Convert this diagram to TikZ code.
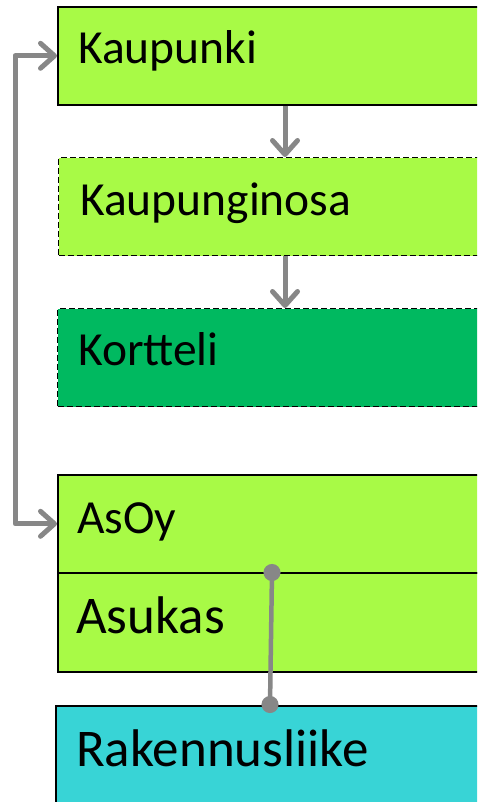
\documentclass[tikz,border=0pt]{standalone}
\usepackage{fontspec}
\setmainfont{Carlito}
\usetikzlibrary{arrows.meta}
\definecolor{limegreen}{RGB}{168,250,70}
\definecolor{blockgreen}{RGB}{0,185,96}
\definecolor{contractor}{RGB}{56,212,214}
\definecolor{linkgrey}{RGB}{135,135,135}
\tikzset{
  box/.style={draw=black, line width=1.6pt, anchor=north west, rectangle,
    minimum width=450pt, minimum height=98pt, inner sep=0pt},
  dashedbox/.style={box, line width=1.3pt, dash pattern=on 6pt off 3pt},
  lbl/.style={anchor=base west, inner sep=0pt, font=\fontsize{47.5}{52}\selectfont},
  biglbl/.style={lbl, font=\fontsize{53}{57}\selectfont},
  barb/.tip={Straight Barb[length=14pt, width=25pt, line cap=round, line join=round]},
  flow/.style={draw=linkgrey, line width=5pt, -barb},
  tie/.style={draw=linkgrey, line width=4.5pt, shorten <=-8pt, shorten >=-8pt,
    {Circle[length=17pt]}-{Circle[length=17pt]}}
}
\begin{document}
\begin{tikzpicture}[x=1pt, y=-1pt]
  \clip (0,0) rectangle (477,802);

  % boxes
  \node[box, fill=limegreen] (kaupunki) at (57,6) {};
  \node[dashedbox, fill=limegreen] (osa) at (58,157) {};
  \node[dashedbox, fill=blockgreen] (kortteli) at (57,308) {};
  \node[box, fill=limegreen] (asoy) at (57,474) {};
  \node[box, fill=limegreen, minimum height=99pt] (asukas) at (57,572) {};
  \node[box, fill=contractor, minimum height=110pt] (rak) at (55,705) {};

  % labels
  \node[lbl] (t1) at ([shift={(21pt,-57.3pt)}]kaupunki.north west) {Kaupunki};
  \node[lbl] (t2) at ([shift={(22pt,-58pt)}]osa.north west) {Kaupunginosa};
  \node[lbl] (t3) at ([shift={(21pt,-57pt)}]kortteli.north west) {Kortteli};
  \node[lbl] (t4) at ([shift={(20pt,-59pt)}]asoy.north west) {AsOy};
  \node[biglbl] (t5) at ([shift={(19pt,-61pt)}]asukas.north west) {Asukas};
  \node[biglbl] (t6) at ([shift={(21pt,-61.7pt)}]rak.north west) {Rakennusliike};

  % hierarchy arrows
  \draw[flow] ([xshift=228pt]kaupunki.south west) -- ([xshift=227pt]osa.north west);
  \draw[flow] ([xshift=227pt]osa.south west) -- ([xshift=228pt]kortteli.north west);

  % loop from AsOy back to Kaupunki
  \draw[flow, barb-barb, line join=round]
    (kaupunki.west) -- ++(-42pt,0) |- (asoy.west);

  % resident -- contractor link
  \draw[tie] ([xshift=215pt]asukas.north west) -- ([xshift=215pt]rak.north west);
\end{tikzpicture}
\end{document}
